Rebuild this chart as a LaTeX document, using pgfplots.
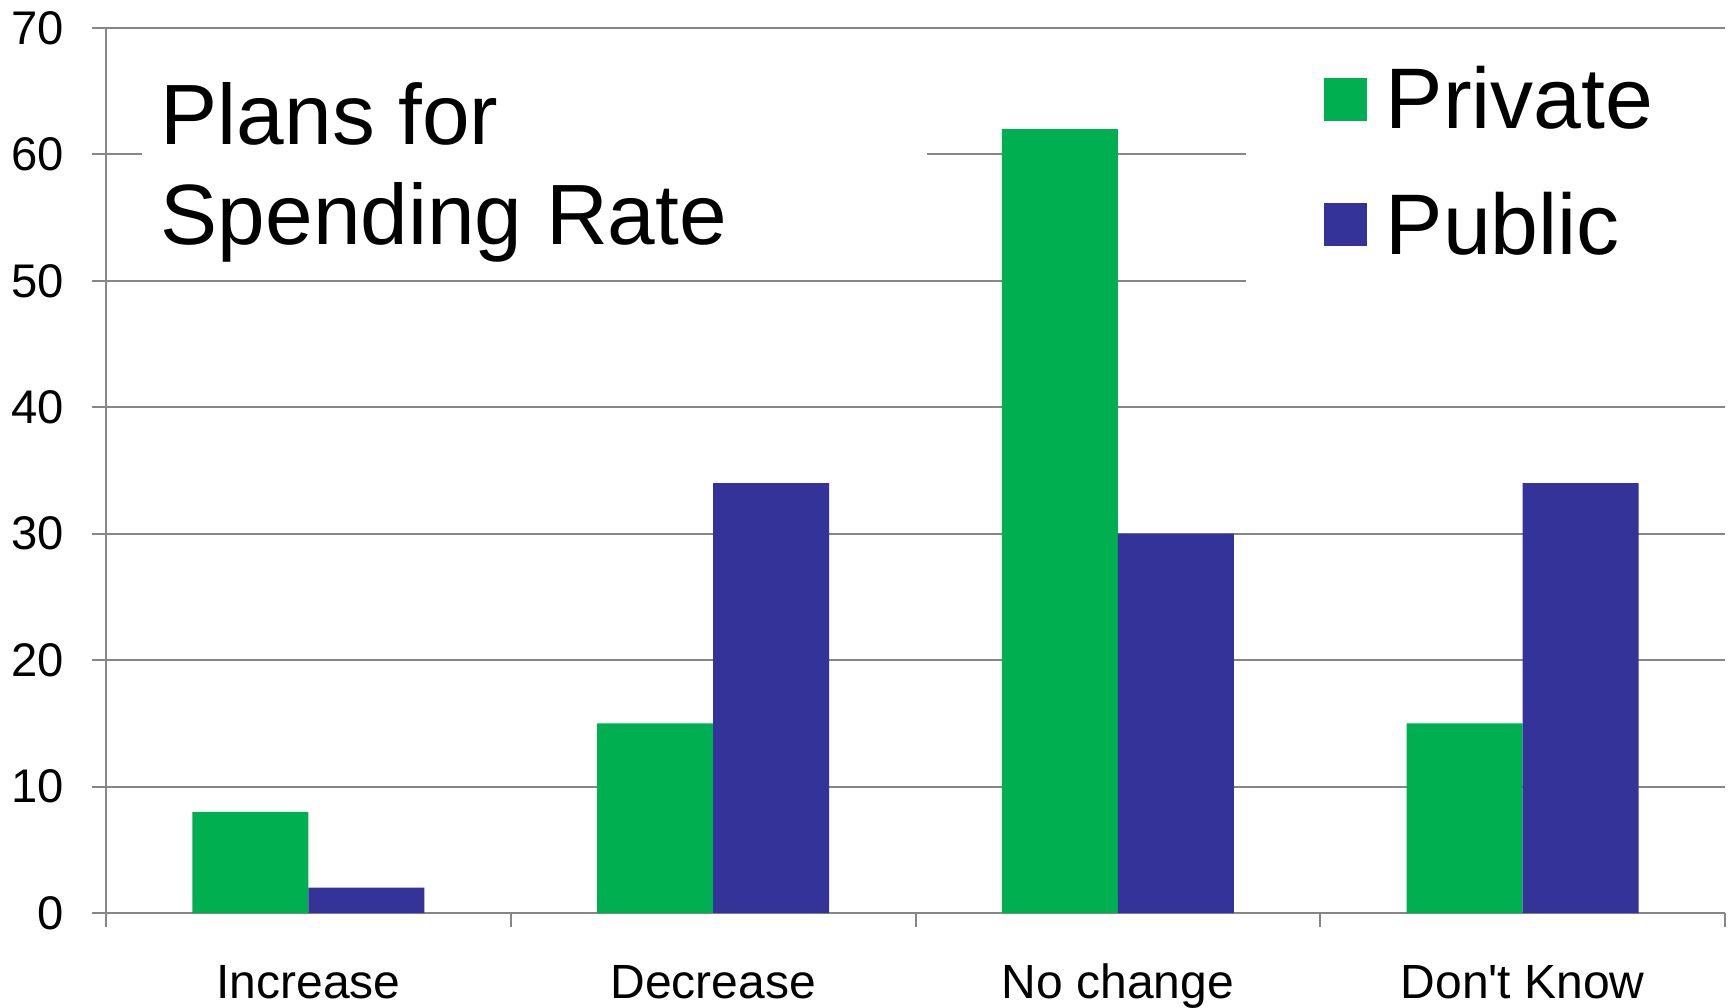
\documentclass[border=0pt]{standalone}
\usepackage{pgfplots}
\pgfplotsset{compat=1.18}
\usepackage{fontspec}
\setmainfont{Liberation Sans}
\definecolor{cgreen}{HTML}{00B050}
\definecolor{cblue}{HTML}{333399}
\definecolor{cgrid}{HTML}{868686}
\pgfplotsset{sqlegend/.style={legend image code/.code={\fill[##1] (0pt,-3.75pt) rectangle (10.75pt,7pt);}}}
\begin{document}
\begin{tikzpicture}
\begin{axis}[
  scale only axis, width=404.75pt, height=221.25pt,
  xmin=-0.5, xmax=3.5, ymin=0, ymax=70,
  axis x line*=bottom, axis y line*=left,
  axis line style={cgrid, line width=0.5pt},
  ytick={0,10,...,70},
  ymajorgrids, grid style={cgrid, line width=0.5pt},
  xtick={-0.5,0.5,1.5,2.5,3.5},
  xticklabels={Increase,Decrease,No change,Don\textquotesingle t Know},
  x tick label as interval,
  tick align=outside, major tick length=3.5pt,
  tick style={cgrid, line width=0.5pt},
  /pgf/number format/assume math mode=true,
  yticklabel style={anchor=east, inner sep=0pt, xshift=-6.9pt, font=\fontsize{11.8}{13}\selectfont},
  xticklabel style={anchor=base, inner sep=0pt, yshift=-17.9pt, font=\fontsize{12}{14}\selectfont},
  legend cell align=left,
  legend style={at={(0.7517,0.9593)}, anchor=north west, draw=none, fill=none, inner sep=0pt,
    font=\fontsize{21.5}{25}\selectfont, row sep=10.85pt,
    nodes={inner sep=0pt, text height=16pt, text depth=4.5pt},
    /tikz/every odd column/.style={column sep=4.75pt}},
]
\fill[white] (axis cs:-0.411,51) rectangle (axis cs:1.528,69);
\fill[white] (axis cs:2.3165,41) rectangle (axis cs:3.5,68);
\addplot[ybar, fill=cgreen, draw=none, bar width=0.2866, bar shift=-0.1433, sqlegend]
  coordinates {(0,8) (1,15) (2,62) (3,15)};
\addplot[ybar, fill=cblue, draw=none, bar width=0.2866, bar shift=0.1433, sqlegend]
  coordinates {(0,2) (1,34) (2,30) (3,34)};
\legend{Private,Public}
\node[anchor=base west, inner sep=0pt, font=\fontsize{21.4}{25}\selectfont] at (rel axis cs:0.03335,0.8689) {Plans for};
\node[anchor=base west, inner sep=0pt, font=\fontsize{21.4}{25}\selectfont] at (rel axis cs:0.03335,0.7548) {Spending Rate};
\end{axis}
\pgfresetboundingbox
\useasboundingbox (-26.5pt,-23.5pt) rectangle (406pt,228.25pt);
\end{tikzpicture}
\end{document}
